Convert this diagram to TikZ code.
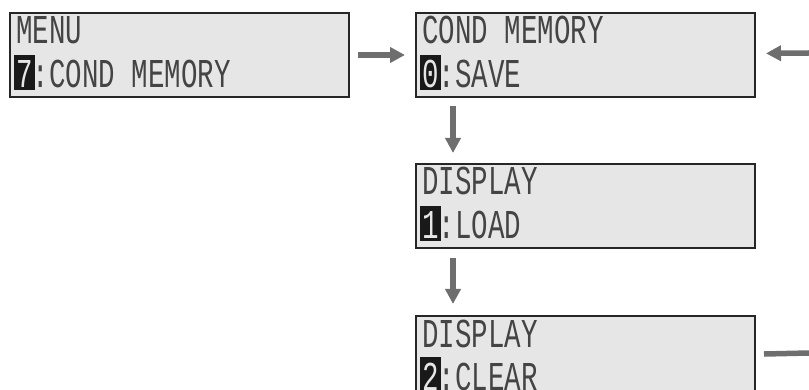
\documentclass[tikz,border=0pt]{standalone}
\usepackage{fontspec}
\newfontfamily\lcdfont[FakeStretch=0.67]{Liberation Mono}
\usetikzlibrary{positioning,arrows.meta}
\definecolor{lcdbg}{HTML}{E6E6E6}
\definecolor{lcdink}{HTML}{444444}
\definecolor{arrgray}{HTML}{6E6E6E}

\begin{document}
\begin{tikzpicture}[x=1pt, y=1pt, node distance=65pt,
  lcdbox/.style={draw=black!85, line width=2pt, fill=lcdbg, minimum width=339pt, minimum height=84pt, inner sep=0pt},
  lcdtxt/.style={anchor=base west, inner sep=0pt, text=lcdink, text depth=0pt, font=\lcdfont\fontsize{41}{41}\selectfont},
  digbox/.style={lcdtxt, fill=black!90, text=lcdbg, inner xsep=2pt, text height=33pt, text depth=2pt},
  flow/.style={draw=arrgray, line width=5.5pt, -{Triangle[length=15pt, width=15pt]}},
  tail/.style={draw=arrgray, line width=5.5pt}]
\useasboundingbox (0,0) rectangle (809,-390);
\node[lcdbox, anchor=north west] (menu) at (9,-12) {};
\node[lcdbox, right=65pt of menu] (save) {};
\node[lcdbox, below=65pt of save] (load) {};
\node[lcdbox, below=66pt of load] (clear) {};
% screen texts
\node[lcdtxt] (menu-t) at ([shift={(7,-32)}]menu.north west) {MENU};
\node[digbox] (menu-d) at ([shift={(5,-76)}]menu.north west) {7};
\node[lcdtxt] (menu-s) at ([shift={(23.5,-76)}]menu.north west) {:COND MEMORY};
\node[lcdtxt] (save-t) at ([shift={(7,-32)}]save.north west) {COND MEMORY};
\node[digbox] (save-d) at ([shift={(5,-76)}]save.north west) {0};
\node[lcdtxt] (save-s) at ([shift={(23.5,-76)}]save.north west) {:SAVE};
\node[lcdtxt] (load-t) at ([shift={(7,-32)}]load.north west) {DISPLAY};
\node[digbox] (load-d) at ([shift={(5,-76)}]load.north west) {1};
\node[lcdtxt] (load-s) at ([shift={(23.5,-76)}]load.north west) {:LOAD};
\node[lcdtxt] (clear-t) at ([shift={(7,-32)}]clear.north west) {DISPLAY};
\node[digbox] (clear-d) at ([shift={(5,-75)}]clear.north west) {2};
\node[lcdtxt] (clear-s) at ([shift={(23.5,-75)}]clear.north west) {:CLEAR};
% arrows
\coordinate (inR) at (809,-53);
\coordinate (outR) at (809,-353);
\draw[flow, shorten <=8pt, shorten >=10pt] (menu) -- (save);
\draw[flow, shorten >=10pt] (inR) -- (save);
\draw[flow, shorten <=8pt, shorten >=10pt] ([xshift=38pt]save.south west) -- ([xshift=38pt]load.north west);
\draw[flow, shorten <=9pt, shorten >=11pt] ([xshift=38pt]load.south west) -- ([xshift=38pt]clear.north west);
\draw[tail, shorten <=8pt] (clear) -- (outR);
\end{tikzpicture}
\end{document}
